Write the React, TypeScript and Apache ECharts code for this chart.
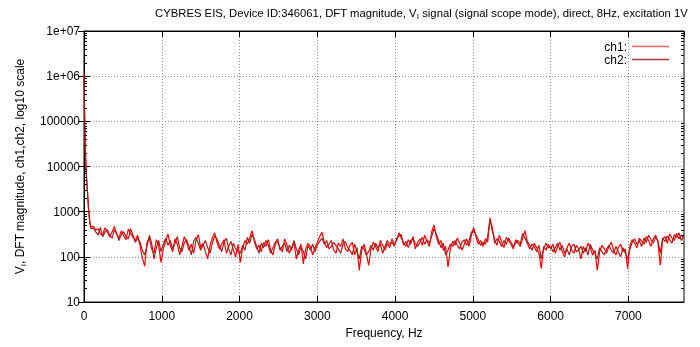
import React, { useEffect, useRef } from 'react';
import * as echarts from 'echarts';

const FONT = '"Liberation Sans", Arial, Helvetica, sans-serif';

const titleText =
  'CYBRES EIS, Device ID:346061, DFT magnitude, V{sub|I} signal (signal scope mode), direct, 8Hz, excitation 1V';
const xAxisName = 'Frequency, Hz';
const yAxisName = 'V{sub|I}, DFT magnitude, ch1,ch2, log10 scale';
const seriesNames = ['ch1', 'ch2'];
const seriesColors = ['#ff0000', '#a81c1c'];
const legendColors = ['#f46a6a', '#a63434'];

const yTickValues = [10, 100, 1000, 10000, 100000, 1000000, 10000000];
const yTickLabels = ['10', '100', '1000', '10000', '100000', '1e+06', '1e+07'];
const minorMultipliers = [2, 3, 4, 5, 6, 7, 8, 9];
const xMin = 0;
const xMax = 7715;
const xInterval = 1000;

// low-frequency head (Hz) and values
const headHz = [0, 15, 30, 45, 60, 75, 90];
const ch1Head = [1100000, 28000, 7000, 2800, 1100, 600, 450];
const ch2Head = [1000000, 25000, 6500, 2600, 1000, 560, 420];

// body: bins from 120 Hz, 30 Hz apart
const bodyStartHz = 120;
const binHz = 30;

const ch1Body = [
  480, 390, 420, 330, 300, 440, 360, 280, 350, 470, 310, 260, 380, 290, 240, 410, 330, 270, 230, 300,
  180, 95, 62, 210, 260, 150, 120, 240, 180, 75,
  150, 220, 320, 180, 130, 250, 190, 110, 170, 280, 210, 140, 190, 120, 230, 310, 160, 200, 130, 90, 180, 260, 340, 210, 150, 190, 240, 120, 170, 220, 140, 100, 190,
  75, 160, 230, 190, 260, 380, 220, 150, 180, 130, 210, 170, 240, 140, 110, 190, 220, 160, 130, 250, 180, 120, 160, 210, 90, 140, 190, 70, 150, 200, 170, 110, 160, 210,
  280, 350, 210, 160, 190, 230, 140, 120, 200, 170, 250, 150, 130, 180, 210, 110, 160, 50, 140, 190, 120, 65, 150, 210, 170, 130, 230, 180, 140, 200, 160, 250, 190,
  230, 340, 260, 200, 170, 240, 190, 280, 150, 210, 250, 180, 300, 220, 170, 350, 510, 280, 190, 230, 140, 170, 60, 150, 220, 180, 260, 200, 140, 190, 250, 170, 290,
  440, 280, 190, 230, 170, 250, 210, 720, 380, 240, 180, 300, 210, 160, 270, 230, 190, 150, 240, 200, 170, 260, 380, 220, 180, 140, 200, 160, 120, 55, 170, 140, 190,
  150, 190, 120, 170, 210, 130, 100, 160, 200, 140, 120, 180, 150, 90, 170, 130, 200, 160, 110, 140, 50, 130, 180, 150, 120, 170, 210, 140, 110, 160, 190, 130, 150,
  55, 180, 240, 200, 160, 260, 220, 190, 280, 230, 170, 250, 300, 210, 65, 240, 280, 200, 320, 260, 230, 330, 250, 300, 270,
];

const ch2Body = [
  430, 360, 300, 450, 280, 350, 400, 300, 260, 390, 340, 230, 310, 360, 280, 250, 420, 300, 210, 260,
  210, 140, 110, 170, 300, 200, 90, 160, 230, 130,
  190, 260, 180, 230, 150, 200, 280, 160, 130, 210, 240, 170, 110, 220, 270, 200, 140, 180, 230, 160, 120, 200, 290, 250, 180, 130, 210, 260, 150, 110, 200, 150, 130,
  120, 180, 140, 270, 200, 310, 250, 170, 120, 200, 160, 230, 180, 120, 160, 210, 250, 140, 170, 200, 130, 180, 140, 230, 150, 110, 170, 130, 90, 180, 140, 190, 130, 180,
  220, 260, 190, 230, 150, 170, 210, 180, 150, 120, 190, 220, 160, 140, 110, 190, 130, 90, 170, 150, 110, 130, 180, 140, 200, 160, 190, 120, 170, 230, 190, 210, 170,
  260, 290, 310, 180, 220, 160, 230, 250, 200, 170, 210, 270, 190, 240, 200, 280, 420, 320, 230, 160, 200, 110, 140, 190, 170, 230, 180, 150, 210, 240, 180, 220, 350,
  380, 310, 240, 180, 210, 190, 280, 640, 450, 200, 250, 220, 170, 230, 190, 260, 210, 170, 200, 230, 190, 330, 260, 200, 150, 190, 170, 130, 180, 90, 150, 200, 160,
  170, 130, 160, 200, 140, 180, 120, 150, 110, 170, 190, 130, 140, 170, 120, 160, 110, 190, 140, 120, 90, 160, 130, 110, 150, 180, 140, 120, 170, 130, 100, 160, 120,
  90, 150, 210, 250, 190, 230, 170, 260, 210, 300, 240, 200, 270, 230, 120, 260, 220, 290, 240, 200, 310, 270, 340, 230, 280,
];

function buildSeriesData(head: number[], body: number[]) {
  const pts: [number, number][] = head.map((v, i) => [headHz[i], v]);
  body.forEach((v, i) => pts.push([bodyStartHz + i * binHz, v]));
  return pts;
}

const richSub = { sub: { fontSize: 8, fontFamily: FONT, color: '#000', verticalAlign: 'bottom', padding: [7, 0, 0, 0] } };

export default function App() {
  const ref = useRef<HTMLDivElement>(null);
  useEffect(() => {
    if (!ref.current) return;
    const chart = echarts.init(ref.current, undefined, { renderer: 'svg' });
    const minorTicks: number[][] = [];
    for (let d = 10; d < 1e7; d *= 10) minorMultipliers.forEach((m) => minorTicks.push([xMin, m * d]));

    const axisCommon = {
      axisLine: { show: true, lineStyle: { color: '#000', width: 1 } },
      axisTick: { show: true, inside: true, length: 6, lineStyle: { color: '#000' } },
    };
    const gridLine = { show: true, lineStyle: { color: '#8a8a8a', type: [1, 2], width: 1 } };

    chart.setOption({
      animation: false,
      title: {
        text: titleText,
        left: 155,
        top: 5,
        padding: 0,
        textStyle: { fontSize: 11.3, fontWeight: 'normal', color: '#000', fontFamily: FONT, rich: richSub },
      },
      legend: {
        data: seriesNames.map((n, i) => ({ name: n, itemStyle: { color: legendColors[i] } })),
        orient: 'vertical',
        right: 26,
        top: 35,
        align: 'right',
        icon: 'rect',
        itemWidth: 37,
        itemHeight: 1.5,
        itemGap: 0,
        selectedMode: false,
        formatter: '{name}:',
        textStyle: { fontSize: 12, color: '#000', fontFamily: FONT, lineHeight: 13 },
      },
      grid: { left: 84, right: 16, top: 31, bottom: 45, show: true, borderColor: '#000', borderWidth: 1 },
      xAxis: [
        {
          type: 'value',
          min: xMin,
          max: xMax,
          interval: xInterval,
          position: 'bottom',
          name: xAxisName,
          nameLocation: 'middle',
          nameGap: 24,
          nameTextStyle: { fontSize: 12, color: '#000', fontFamily: FONT },
          ...axisCommon,
          axisLabel: {
            margin: 8,
            fontSize: 12,
            color: '#000',
            fontFamily: FONT,
            showMaxLabel: false,
            formatter: (v: number) => String(v),
          },
          splitLine: gridLine,
        },
        {
          type: 'value',
          min: xMin,
          max: xMax,
          interval: xInterval,
          position: 'top',
          ...axisCommon,
          axisLabel: { show: false },
          splitLine: { show: false },
        },
      ],
      yAxis: [
        {
          type: 'log',
          logBase: 10,
          min: yTickValues[0],
          max: yTickValues[yTickValues.length - 1],
          position: 'left',
          name: yAxisName,
          nameLocation: 'middle',
          nameRotate: 90,
          nameGap: 57,
          nameTextStyle: { fontSize: 12, color: '#000', fontFamily: FONT, rich: richSub },
          ...axisCommon,
          axisLabel: {
            margin: 4,
            fontSize: 12,
            color: '#000',
            fontFamily: FONT,
            formatter: (v: number) => {
              const idx = yTickValues.findIndex((t) => Math.abs(Math.log10(t) - Math.log10(v)) < 1e-6);
              return idx >= 0 ? yTickLabels[idx] : '';
            },
          },
          splitLine: gridLine,
        },
        {
          type: 'log',
          logBase: 10,
          min: yTickValues[0],
          max: yTickValues[yTickValues.length - 1],
          position: 'right',
          ...axisCommon,
          axisLabel: { show: false },
          splitLine: { show: false },
        },
      ],
      series: [
        {
          name: seriesNames[0],
          type: 'line',
          data: buildSeriesData(ch1Head, ch1Body),
          showSymbol: false,
          symbol: 'none',
          lineStyle: { color: seriesColors[0], width: 1.2 },
          itemStyle: { color: seriesColors[0] },
          z: 3,
        },
        {
          name: seriesNames[1],
          type: 'line',
          data: buildSeriesData(ch2Head, ch2Body),
          showSymbol: false,
          symbol: 'none',
          lineStyle: { color: seriesColors[1], width: 1.2 },
          itemStyle: { color: seriesColors[1] },
          z: 4,
        },
        {
          type: 'custom',
          name: 'minorTicks',
          silent: true,
          clip: false,
          z: 6,
          data: minorTicks,
          renderItem: (params: any, api: any) => {
            const y = Math.round(api.coord([xMin, api.value(1)])[1]) + 0.5;
            const cs = params.coordSys;
            const st = { stroke: '#000', lineWidth: 1 };
            return {
              type: 'group',
              children: [
                { type: 'line', shape: { x1: cs.x, y1: y, x2: cs.x + 3, y2: y }, style: st },
                { type: 'line', shape: { x1: cs.x + cs.width - 3, y1: y, x2: cs.x + cs.width, y2: y }, style: st },
              ],
            };
          },
        },
      ],
    });
    return () => chart.dispose();
  }, []);
  return <div ref={ref} style={{ position: 'fixed', left: 0, top: 0, width: 700, height: 347 }} />;
}
